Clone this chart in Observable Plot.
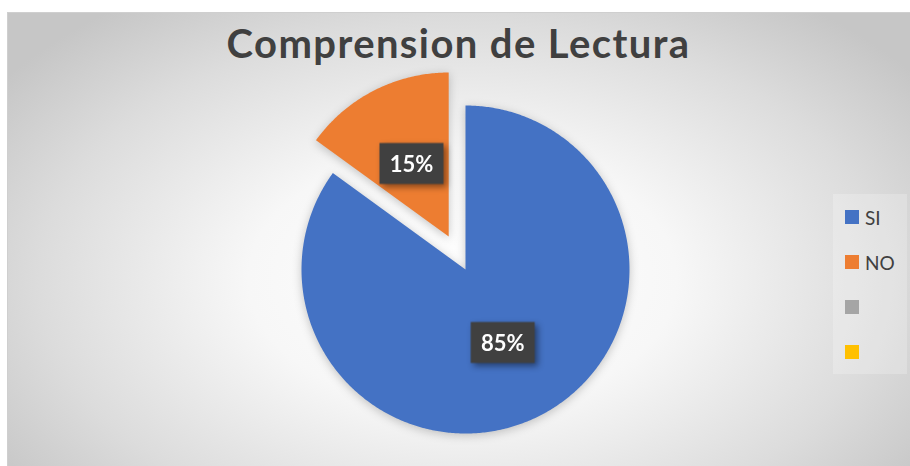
<!DOCTYPE html>
<html>
<head>
<meta charset="utf-8">
<script src="https://cdn.jsdelivr.net/npm/d3@7"></script>
<script src="https://cdn.jsdelivr.net/npm/@observablehq/plot@0.6"></script>
<style>
  html, body { margin: 0; padding: 0; background: #fff; }
  #wrap { position: relative; width: 910px; height: 466px; overflow: hidden; background: #fff; }
  #area { position: absolute; left: 7px; top: 12px; width: 910px; height: 460px;
    background: radial-gradient(ellipse 62% 75% at 50% 58%, #ffffff 0%, #f7f7f7 38%, #dcdcdc 75%, #c6c6c6 100%);
    border-top: 1px solid #cfcfcf; border-left: 1px solid #cfcfcf; box-sizing: border-box; }
  #title { position: absolute; left: 7px; width: 903px; top: 19px; text-align: center; line-height: normal;
    font-family: Lato, "Noto Sans", sans-serif; font-weight: 700; font-size: 40px; color: #404040; letter-spacing: 1.4px; }
  #plot { position: absolute; left: 0; top: 0; }
  #legend { position: absolute; left: 833px; top: 194px; width: 74px; height: 180px;
    background: rgba(255,255,255,0.22); font-family: Lato, "Noto Sans", sans-serif; font-size: 19px; color: #404040; }
  .li { position: absolute; left: 12px; height: 14px; display: flex; align-items: center; }
  .sw { width: 14px; height: 14px; margin-right: 6px; flex: none; }
</style>
</head>
<body>
<div id="wrap">
  <div id="area"></div>
  <div id="title">Comprension de Lectura</div>
  <div id="plot"></div>
  <div id="legend"></div>
</div>
<script>
// ---- data ----
const categories = ["SI", "NO", "", ""];
const values = [85, 15, 0, 0];
const colors = ["#4472C4", "#ED7D31", "#A5A5A5", "#FFC000"];
const labels = ["85%", "15%"];

// ---- layout constants (styling) ----
const R = 164;               // pie radius in px
const CX = 465, CY = 269;    // pie centre in px
const W = 910, H = 466;
const EXPLODE = { "NO": 37 / 164 }; // exploded slice offset (fraction of radius)

const total = d3.sum(values);
const slices = [];
const labelPts = [];
let acc = 0;
values.forEach((v, i) => {
  if (v <= 0) return;
  const a0 = acc / total * 2 * Math.PI;
  acc += v;
  const a1 = acc / total * 2 * Math.PI;
  const mid = (a0 + a1) / 2;
  const ex = EXPLODE[categories[i]] || 0;
  const ox = ex * Math.sin(mid), oy = ex * Math.cos(mid);
  const key = categories[i];
  slices.push({ key, x: ox, y: oy });
  const n = Math.max(8, Math.ceil((a1 - a0) / 0.01));
  for (let k = 0; k <= n; k++) {
    const a = a0 + (a1 - a0) * k / n;
    slices.push({ key, x: ox + Math.sin(a), y: oy + Math.cos(a) });
  }
  slices.push({ key, x: ox, y: oy });
  labelPts.push({ key, label: labels[i], x: ox + 0.5 * Math.sin(mid), y: oy + 0.5 * Math.cos(mid) });
});

const boxSymbol = {
  draw(ctx, size) {
    const w = 64, h = 41;
    ctx.rect(-w / 2, -h / 2, w, h);
  }
};

const chart = Plot.plot({
  width: W, height: H,
  marginTop: 0, marginRight: 0, marginBottom: 0, marginLeft: 0,
  style: { background: "transparent", overflow: "visible" },
  x: { domain: [-CX / R, (W - CX) / R], axis: null },
  y: { domain: [-(H - CY) / R, CY / R], axis: null },
  color: { domain: categories.filter(c => c), range: colors.slice(0, 2) },
  marks: [
    Plot.line(slices, { x: "x", y: "y", z: "key", fill: "key", stroke: "none", curve: "linear" }),
    Plot.dot(labelPts, { x: "x", y: "y", symbol: boxSymbol, r: 10, fill: "#404040", stroke: "none" }),
    Plot.text(labelPts, { x: "x", y: "y", text: "label", fill: "white", fontSize: 22, fontWeight: "bold",
      fontFamily: "Lato, 'Noto Sans', sans-serif", dy: 1 })
  ]
});
document.getElementById("plot").appendChild(chart);

// soft shadows
const svg = d3.select(chart);
svg.selectAll("g[aria-label='line']").style("filter", "drop-shadow(0px 2px 5px rgba(0,0,0,0.22))");
svg.selectAll("g[aria-label='dot']").style("filter", "drop-shadow(3px 3px 3px rgba(0,0,0,0.45))");

// legend
const legend = document.getElementById("legend");
categories.forEach((c, i) => {
  const row = document.createElement("div");
  row.className = "li";
  row.style.top = (16 + i * 45) + "px";
  const sw = document.createElement("div");
  sw.className = "sw";
  sw.style.background = colors[i];
  const t = document.createElement("span");
  t.textContent = c;
  row.appendChild(sw); row.appendChild(t);
  legend.appendChild(row);
});
</script>
</body>
</html>
